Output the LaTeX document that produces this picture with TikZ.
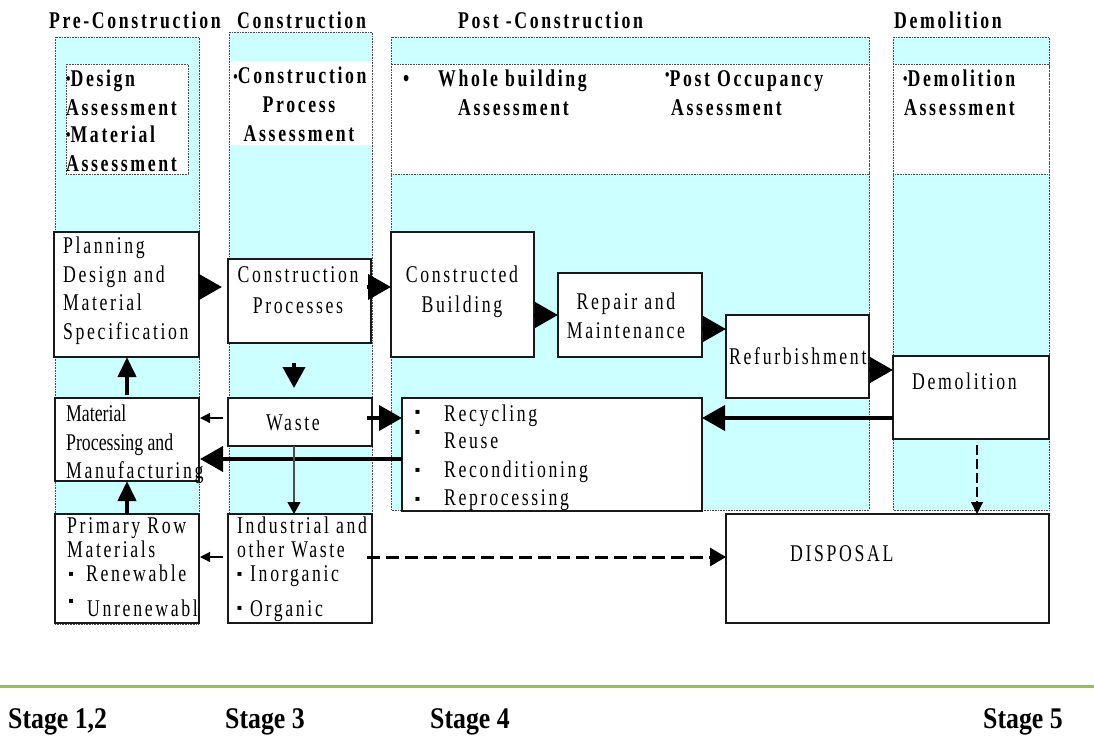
\documentclass[tikz,border=0pt]{standalone}
\usepackage{fontspec}
\setmainfont{Liberation Serif}
\newfontfamily\spfont{Liberation Serif}[FakeStretch=0.74,LetterSpace=11]
\newfontfamily\nsfont{Liberation Serif}[FakeStretch=0.74]
\newfontfamily\stfont{Liberation Serif}[FakeStretch=0.86]
\newfontfamily\symfont{DejaVu Sans}
\usetikzlibrary{arrows.meta,calc}
\definecolor{colcyan}{RGB}{204,255,255}
\definecolor{rulegreen}{RGB}{155,187,89}
\newcommand{\mydot}[1]{{\fontsize{17}{17}\selectfont\raisebox{#1}{•}}}
\begin{document}
\begin{tikzpicture}[x=1pt,y=-1pt,
  col/.style={fill=colcyan, draw=black!70, densely dotted, line width=0.6pt},
  wblk/.style={fill=white, draw=black!70, densely dotted, line width=0.6pt},
  dotline/.style={draw=black!70, densely dotted, line width=0.6pt},
  box/.style={draw=black!90, line width=1.4pt, fill=white, inner sep=0pt, outer sep=0pt, anchor=north west},
  txt/.style={font=\spfont\fontsize{24}{28}\selectfont, inner sep=0pt, anchor=base west},
  txtc/.style={txt, anchor=base},
  hdr/.style={font=\spfont\bfseries\fontsize{24}{28}\selectfont, inner sep=0pt, anchor=base west},
  hdrc/.style={hdr, anchor=base},
  nst/.style={font=\nsfont\fontsize{24}{28}\selectfont, inner sep=0pt, anchor=base west},
  bul/.style={font=\symfont\fontsize{8}{8}\selectfont, inner sep=0pt, anchor=center},
  stg/.style={font=\stfont\bfseries\fontsize{30}{32}\selectfont, inner sep=0pt, anchor=base west},
  bigarrow/.style={draw=black, line width=4pt, -{Triangle[length=23pt,width=25pt]}},
  downarrow/.style={draw=black, line width=4pt, -{Triangle[length=21pt,width=22pt]}},
  uparrow/.style={draw=black, line width=4pt, -{Triangle[length=20pt,width=18pt]}},
  thinarrow/.style={draw=black, line width=1.2pt, -{Triangle[length=10pt,width=10pt]}},
  greyarrow/.style={draw=black!70, line width=1.2pt, -{Triangle[length=12pt,width=13pt,fill=black,color=black]}},
  dasharrow/.style={draw=black, line width=3pt, dash pattern=on 12.5pt off 6.5pt, -{Triangle[length=16pt,width=18pt]}},
  thindash/.style={draw=black, line width=1.2pt, dash pattern=on 10pt off 4pt, -{Triangle[length=12pt,width=12pt]}}
]
\useasboundingbox (0,0) rectangle (1094,744);
\fill[white] (0,0) rectangle (1094,744);

% columns
\path[col] (55,37) rectangle (199,624);
\path[wblk] (66,64) rectangle (188,174);
\fill[colcyan] (229,32) rectangle (372,514);
\fill[white] (229,61) rectangle (372,145);
\path[dotline] (229,32) rectangle (372,514);
\path[col] (391,37) rectangle (869,510);
\path[wblk] (391,64) rectangle (869,174);
\path[col] (893,37) rectangle (1049,510);
\path[wblk] (893,64) rectangle (1049,174);

% headers
\node[hdr] (h1) at (49,28.5) {Pre-Construction};
\node[hdr] (h2) at (237,28.5) {Construction};
\node[hdr] (h3) at (458,28.5) {Post -Construction};
\node[hdr] (h4) at (894,28.5) {Demolition};

% assessment texts
\node[hdr] (a1) at (66,86) {\mydot{1.5pt}Design};
\node[hdr] (a2) at (66,115) {Assessment};
\node[hdr] (a3) at (66,142) {\mydot{1.5pt}Material};
\node[hdr] (a4) at (66,171) {Assessment};
\node[hdrc] (b1) at (300,83) {\mydot{1pt}Construction};
\node[hdrc] (b2) at (299,112) {Process};
\node[hdrc] (b3) at (299,141) {Assessment};
\node[hdr] (c0) at (403,86) {•};
\node[hdr] (c1) at (438,86) {Whole building};
\node[hdr] (c2) at (458,115) {Assessment};
\node[hdr] (c3) at (665,86) {\mydot{6pt}Post Occupancy};
\node[hdr] (c4) at (671,115) {Assessment};
\node[hdr] (d1) at (903,86) {\mydot{1.5pt}Demolition};
\node[hdr] (d2) at (904,115) {Assessment};

% boxes
\node[box, minimum width=145pt, minimum height=125pt] (plan) at (54,232) {};
\node[box, line width=2.4pt, minimum width=143pt, minimum height=84pt] (cproc) at (228,259) {};
\node[box, minimum width=143pt, minimum height=125pt] (cbuild) at (391,232) {};
\node[box, minimum width=144pt, minimum height=84pt] (repair) at (558,273) {};
\node[box, minimum width=143pt, minimum height=83pt] (refurb) at (726,315) {};
\node[box, minimum width=156pt, minimum height=83pt] (demol) at (893,356) {};
\node[box, minimum width=144pt, minimum height=83pt] (matproc) at (55,398) {};
\node[box, minimum width=144pt, minimum height=48pt] (waste) at (228,398) {};
\node[box, minimum width=300pt, minimum height=113pt] (recyc) at (402,398) {};
\node[box, minimum width=144pt, minimum height=109pt] (primary) at (55,514) {};
\node[box, minimum width=144pt, minimum height=109pt] (indus) at (228,514) {};
\node[box, minimum width=323pt, minimum height=109pt] (disposal) at (726,514) {};

% box texts
\node[txt] (p1) at (63,253) {Planning};
\node[txt] (p2) at (63,282) {Design and};
\node[txt] (p3) at (63,310) {Material};
\node[txt] (p4) at (63,339) {Specification};
\node[txtc] (q1) at (298,282) {Construction};
\node[txtc] (q2) at (298,313) {Processes};
\node[txtc] (w1) at (293,430) {Waste};
\node[nst] (m1) at (66,421) {Material};
\node[nst] (m2) at (66,450) {Processing and};
\node[txt] (m3) at (66,478) {Manufacturing};
\node[txtc] (r1) at (462,282) {Constructed};
\node[txtc] (r2) at (462,312) {Building};
\node[txtc] (s1) at (626,309) {Repair and};
\node[txtc] (s2) at (626,338) {Maintenance};
\node[txt] (f1) at (729,364) {Refurbishment};
\node[txt] (e1) at (912,389) {Demolition};
\node[bul] (kb1) at (417.5,412) {▪};
\node[bul] (kb2) at (417.5,432) {▪};
\node[bul] (kb3) at (417.5,470) {▪};
\node[bul] (kb4) at (417.5,499) {▪};
\node[txt] (k1) at (444,421) {Recycling};
\node[txt] (k2) at (444,448) {Reuse};
\node[txt] (k3) at (444,477) {Reconditioning};
\node[txt] (k4) at (444,505) {Reprocessing};
\node[txt] (n1) at (67,533) {Primary Row};
\node[txt] (n2) at (67,557) {Materials};
\node[bul] (nb3) at (71,574) {▪};
\node[txt] (n3) at (86,581) {Renewable};
\node[bul] (nb4) at (71,601) {▪};
\node[txt] (n4) at (87,616) {Unrenewabl};
\node[txt] (i1) at (237,533) {Industrial and};
\node[txt] (i2) at (237,557) {other Waste};
\node[bul] (ib3) at (239.5,574) {▪};
\node[txt] (i3) at (250,581) {Inorganic};
\node[bul] (ib4) at (239.5,608) {▪};
\node[txt] (i4) at (250,616) {Organic};
\node[txt] (dd) at (790,561) {DISPOSAL};

% connectors
\draw[bigarrow, shorten >=6pt] ($(plan.north east)+(0,55)$) -- ($(cproc.north west)+(0,28)$);
\draw[bigarrow] ($(cproc.north east)+(-4,28)$) -- ($(cbuild.north west)+(0,55)$);
\draw[bigarrow] ($(cbuild.north east)+(0,83)$) -- ($(repair.north west)+(0,42)$);
\draw[bigarrow] ($(repair.north east)+(0,56)$) -- ($(refurb.north west)+(0,14)$);
\draw[bigarrow] ($(refurb.north east)+(0,55)$) -- ($(demol.north west)+(0,14)$);
\draw[bigarrow] ($(demol.north west)+(0,62)$) -- ($(recyc.north east)+(0,20)$);
\draw[bigarrow] ($(waste.north east)+(-5,20)$) -- ($(recyc.north west)+(0,20)$);
\draw[bigarrow] ($(recyc.north west)+(0,61)$) -- ($(matproc.north east)+(1,61)$);
\draw[thinarrow] ($(waste.north west)+(-5,20)$) -- ($(matproc.north east)+(1,20)$);
\draw[downarrow, shorten <=20pt, shorten >=10pt] ($(cproc.south west)+(66,0)$) -- ($(waste.north west)+(66,0)$);
\draw[uparrow] ($(matproc.north west)+(72,-3)$) -- ($(plan.south west)+(73,0)$);
\draw[uparrow] ($(primary.north west)+(72,0)$) -- ($(matproc.south west)+(72,0)$);
\draw[greyarrow] ($(waste.south west)+(66,0)$) -- ($(indus.north west)+(66,0)$);
\draw[thinarrow] ($(indus.north west)+(-5,43)$) -- ($(primary.north east)+(1,43)$);
\draw[dasharrow] ($(indus.north east)+(-5,43)$) -- ($(disposal.north west)+(0,43)$);
\draw[thindash] ($(demol.south west)+(84,6)$) -- ($(disposal.north west)+(251,0)$);

% bottom rule and stages
\draw[rulegreen, line width=3pt] (0,686) -- (1094,686);
\node[stg] (g1) at (8,728) {Stage 1,2};
\node[stg] (g2) at (225,728) {Stage 3};
\node[stg] (g3) at (430,728) {Stage 4};
\node[stg] (g4) at (983,728) {Stage 5};
\end{tikzpicture}
\end{document}
